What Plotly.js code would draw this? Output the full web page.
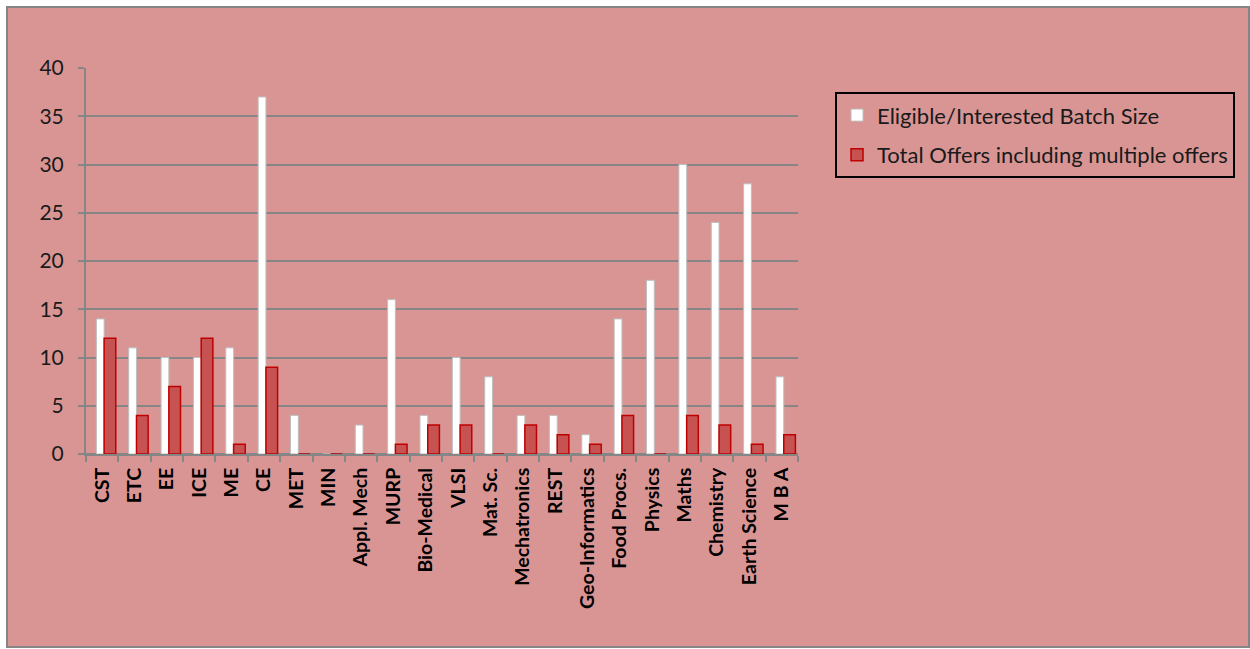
<!DOCTYPE html>
<html>
<head>
<meta charset="utf-8">
<script src="https://cdn.plot.ly/plotly-3.0.1.min.js"></script>
<style>
  html, body { margin: 0; padding: 0; background: #ffffff; width: 1250px; height: 649px; overflow: hidden; }
  #bg { position: absolute; left: 6px; top: 6px; width: 1244px; height: 642px; box-sizing: border-box;
        background: #D99594; border: 2px solid #858585; }
  #chart { position: absolute; left: 0; top: 0; width: 1250px; height: 649px; }
</style>
</head>
<body>
<div id="bg"></div>
<div id="chart"></div>
<script>
const categories = ["CST", "ETC", "EE", "ICE", "ME", "CE", "MET", "MIN", "Appl. Mech", "MURP",
  "Bio-Medical", "VLSI", "Mat. Sc.", "Mechatronics", "REST", "Geo-Informatics", "Food Procs.",
  "Physics", "Maths", "Chemistry", "Earth Science", "M B A"];
const eligibleBatch = [14, 11, 10, 10, 11, 37, 4, 0, 3, 16, 4, 10, 8, 4, 4, 2, 14, 18, 30, 24, 28, 8];
const totalOffers   = [12, 4, 7, 12, 1, 9, 0, 0, 0, 1, 3, 3, 0, 3, 2, 1, 4, 0, 4, 3, 1, 2];
const yTicks = [0, 5, 10, 15, 20, 25, 30, 35, 40];

const FONT = "Lato, 'Open Sans', sans-serif";

const traces = [
  {
    type: "bar", name: "Eligible/Interested Batch Size",
    x: categories, y: eligibleBatch,
    width: 0.24, offset: -0.18,
    marker: { color: "#FFFFFF", line: { color: "#BFBFBF", width: 1 } },
    legendgroup: "a", hoverinfo: "x+y"
  },
  {
    type: "bar", name: "Total Offers including multiple offers",
    x: categories, y: totalOffers,
    width: 0.36, offset: 0.06,
    marker: { color: "#C65352", line: { color: "#C00000", width: 1.5 } },
    legendgroup: "b", hoverinfo: "x+y"
  }
];

const layout = {
  width: 1250, height: 649,
  paper_bgcolor: "rgba(0,0,0,0)",
  plot_bgcolor: "rgba(0,0,0,0)",
  margin: { l: 86, r: 452, t: 68, b: 195 },
  font: { family: FONT, color: "#000000" },
  showlegend: true,
  legend: {
    x: 1.052, y: 0.937, xanchor: "left", yanchor: "top",
    bgcolor: "rgba(0,0,0,0)", bordercolor: "#000000", borderwidth: 2,
    font: { family: FONT, size: 22, color: "#1a1a1a" },
    traceorder: "grouped", tracegroupgap: 8,
    itemwidth: 30
  },
  xaxis: {
    type: "category",
    range: [-0.5, categories.length - 0.5],
    tickangle: -90,
    tickfont: { family: FONT, size: 19.5, color: "#000000", weight: "bold" },
    ticks: "outside", ticklen: 6, tickcolor: "#868686", tickwidth: 2,
    tickson: "boundaries",
    ticklabelstandoff: 4,
    showline: true, linecolor: "#868686", linewidth: 2,
    showgrid: false, zeroline: false,
    fixedrange: true
  },
  yaxis: {
    range: [0, 40],
    tickmode: "array", tickvals: yTicks, ticktext: yTicks.map(String),
    tickfont: { family: FONT, size: 21, color: "#1a1a1a" },
    ticks: "outside", ticklen: 6, tickcolor: "#868686", tickwidth: 2,
    ticklabelstandoff: 10,
    showline: true, linecolor: "#868686", linewidth: 2,
    showgrid: true, gridcolor: "#868686", gridwidth: 2,
    zeroline: true, zerolinecolor: "#868686", zerolinewidth: 2,
    fixedrange: true
  },
  bargap: 0, bargroupgap: 0
};

Plotly.newPlot("chart", traces, layout, { displayModeBar: false, staticPlot: true });
</script>
</body>
</html>
